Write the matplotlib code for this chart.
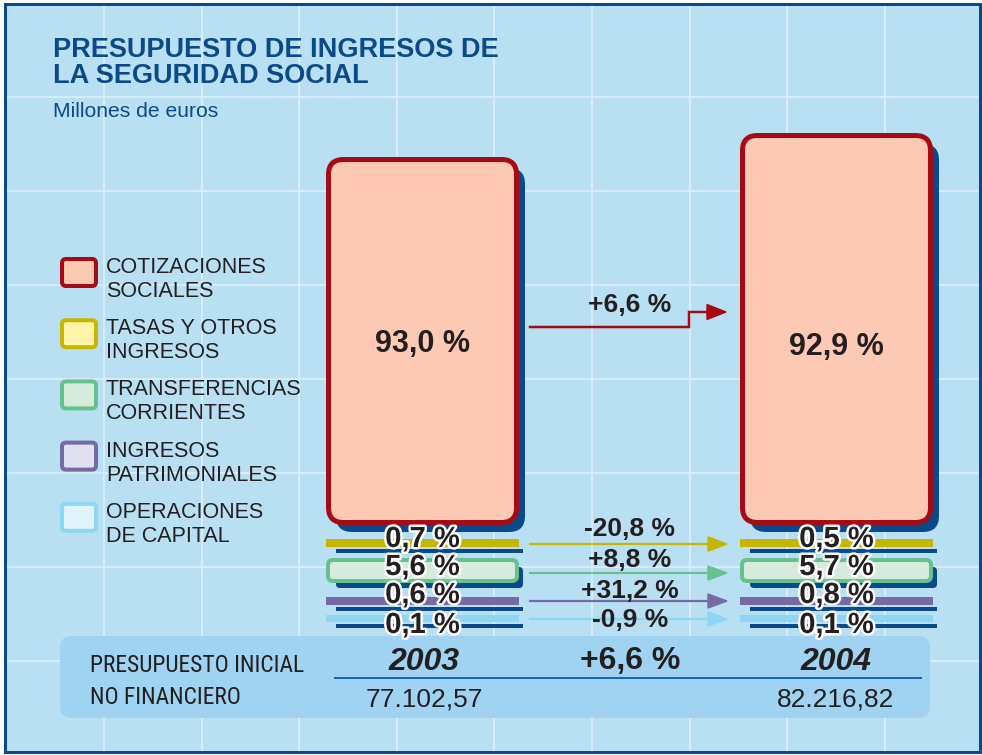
import matplotlib
matplotlib.use('Agg')
import matplotlib.pyplot as plt
import matplotlib.patheffects as pe
from matplotlib import font_manager
from matplotlib.patches import Rectangle, FancyBboxPatch, FancyArrow

plt.rcParams['font.family'] = ['Liberation Sans', 'DejaVu Sans']

#%% data (millones de euros / %)
years = ['2003', '2004']
totals = [77102.57, 82216.82]
categories = ['COTIZACIONES\nSOCIALES', 'TASAS Y OTROS\nINGRESOS', 'TRANSFERENCIAS\nCORRIENTES',
              'INGRESOS\nPATRIMONIALES', 'OPERACIONES\nDE CAPITAL']
share_2003 = [93.0, 0.7, 5.6, 0.6, 0.1]
share_2004 = [92.9, 0.5, 5.7, 0.8, 0.1]
change = [6.6, -20.8, 8.8, 31.2, -0.9]
total_change = 6.6

#%% styles
edge_colors = ['#a50a15', '#c7b500', '#66c18c', '#7769a3', '#8dd6f4']
fill_colors = ['#fcc9b4', '#fff5a8', '#d6ebdc', '#e0e0f0', '#e0f3fb']
navy = '#0b4a8a'
ink = '#231f20'
bg = '#b9dff3'
grid_c = '#d6edf9'
panel_c = '#9fd3f1'
PX = 0.72  # points per pixel at dpi 100

# narrowest sans available for the condensed labels of the bottom panel
avail = {f.name for f in font_manager.fontManager.ttflist}
narrow = next((f for f in ['Liberation Sans Narrow', 'Roboto Condensed', 'Open Sans Condensed',
                           'Roboto'] if f in avail), 'Liberation Sans')


def pct(v, sign=False):
    s = f'{v:+.1f}' if sign else f'{v:.1f}'
    return s.replace('.', ',') + ' %'


def euros(v):
    return f'{v:,.2f}'.replace(',', 'X').replace('.', ',').replace('X', '.')


fig = plt.figure(figsize=(9.82, 7.55), dpi=100)
ax = fig.add_axes([0, 0, 1, 1])
ax.set_xlim(0, 982)
ax.set_ylim(755, 0)
ax.axis('off')

# frame + grid
ax.add_patch(Rectangle((5.5, 4), 975, 748, fc=bg, ec='none', zorder=0))
for k in range(9):
    ax.plot([104 + 97.6 * k] * 2, [5, 751], color=grid_c, lw=2 * PX, zorder=0.5)
for k in range(7):
    ax.plot([6, 980], [97 + 94 * k] * 2, color=grid_c, lw=2 * PX, zorder=0.5)
ax.add_patch(Rectangle((5.5, 4), 975, 748, fc='none', ec=navy, lw=3 * PX, zorder=10))

# title
ax.text(53, 57, 'PRESUPUESTO DE INGRESOS DE', color=navy, fontsize=19.5, fontweight='bold', va='baseline')
ax.text(53, 83, 'LA SEGURIDAD SOCIAL', color=navy, fontsize=19.5, fontweight='bold', va='baseline')
ax.text(53, 117, 'Millones de euros', color=navy, fontsize=15.2, va='baseline')

# legend
for k, cat in enumerate(categories):
    yc = 272.5 + 61.2 * k
    ax.add_patch(FancyBboxPatch((62, yc - 13.5), 34, 27, boxstyle='round,pad=0,rounding_size=4',
                                fc=fill_colors[k], ec=edge_colors[k], lw=4 * PX, zorder=3))
    for j, line in enumerate(cat.split('\n')):
        ax.text(106, 273 + 61.2 * k + 24 * j, line, color=ink, fontsize=15.5, va='baseline')

# columns
col_x = [326, 740]
col_w = 193
base_y = 525
px_per_meur = 368 / (totals[0] * share_2003[0] / 100)
strip_top = [539, 558, 597, 615]
strip_h = [8, 25, 8, 7]
label_base = [547, 575, 603, 633]
big_label_base = [352, 355]
outline = [pe.withStroke(linewidth=3.5, foreground='white')]

for i, (x0, total, shares) in enumerate(zip(col_x, totals, [share_2003, share_2004])):
    h = total * shares[0] / 100 * px_per_meur
    top = base_y - h
    ax.add_patch(FancyBboxPatch((x0 + 10, top + 11), col_w - 4, h - 4,
                                boxstyle='round,pad=0,rounding_size=16', fc=navy, ec='none', zorder=2))
    ax.add_patch(FancyBboxPatch((x0 + 2.5, top + 2.5), col_w - 5, h - 5,
                                boxstyle='round,pad=0,rounding_size=15', fc=fill_colors[0],
                                ec=edge_colors[0], lw=5 * PX, zorder=3))
    xc = x0 + col_w / 2
    ax.text(xc, big_label_base[i], pct(shares[0]), color=ink, fontsize=22,
            fontweight='bold', ha='center', va='baseline', zorder=6)

    for k in range(1, 5):
        t, sh = strip_top[k - 1], strip_h[k - 1]
        if k == 2:
            ax.add_patch(FancyBboxPatch((x0 + 10, t + 9), col_w - 6, sh - 4,
                                        boxstyle='round,pad=0,rounding_size=4', fc=navy, ec='none', zorder=2))
            ax.add_patch(FancyBboxPatch((x0 + 2, t + 2), col_w - 4, sh - 4,
                                        boxstyle='round,pad=0,rounding_size=5', fc=fill_colors[k],
                                        ec=edge_colors[k], lw=4 * PX, zorder=3))
        else:
            ax.add_patch(Rectangle((x0 + 10, t + sh + 2), col_w - 6, 3.5, fc=navy, ec='none', zorder=2))
            ax.add_patch(Rectangle((x0, t), col_w, sh, fc=edge_colors[k], ec='none', zorder=3))
        ax.text(xc, label_base[k - 1], pct(shares[k]), color=ink, fontsize=21, fontweight='bold',
                ha='center', va='baseline', zorder=6, path_effects=outline)

# growth arrows
ax.plot([530, 689, 689, 709], [327, 327, 312, 312], color=edge_colors[0], lw=2.5 * PX,
        solid_joinstyle='miter', zorder=4)
ax.add_patch(FancyArrow(705, 312, 21, 0, width=0.1, head_width=15, head_length=19,
                        length_includes_head=True, color=edge_colors[0], zorder=4))
ax.text(630, 312, pct(change[0], sign=True), color=ink, fontsize=19, fontweight='bold',
        ha='center', va='baseline', zorder=6)

arrow_y = [544, 573, 601, 619]
mid_base = [536, 567, 598, 627]
for k in range(1, 5):
    y = arrow_y[k - 1]
    ax.plot([530, 712], [y, y], color=edge_colors[k], lw=2.2 * PX, zorder=4)
    ax.add_patch(FancyArrow(705, y, 22, 0, width=0.1, head_width=14, head_length=19,
                            length_includes_head=True, color=edge_colors[k], zorder=4))
    ax.text(630, mid_base[k - 1], pct(change[k], sign=True), color=ink, fontsize=19,
            fontweight='bold', ha='center', va='baseline', zorder=6)

# bottom panel
ax.add_patch(FancyBboxPatch((60, 636), 870, 82, boxstyle='round,pad=0,rounding_size=12',
                            fc=panel_c, ec='none', zorder=3))
ax.plot([335, 921], [678, 678], color='#1d63b0', lw=2 * PX, zorder=4)
t1 = ax.text(90, 672, 'PRESUPUESTO INICIAL', color=ink, fontsize=18, family=narrow, va='baseline', zorder=5)
t2 = ax.text(90, 704, 'NO FINANCIERO', color=ink, fontsize=18, family=narrow, va='baseline', zorder=5)
# squeeze the panel caption to the width it has in the original
renderer = fig.canvas.get_renderer()
w = t1.get_window_extent(renderer).width
for t in (t1, t2):
    t.set_fontsize(t.get_fontsize() * 215 / w)
for xc, yr, total in zip([424, 836], years, totals):
    ax.text(xc, 670, yr, color=ink, fontsize=23, fontweight='bold', fontstyle='italic',
            ha='center', va='baseline', zorder=5)
    ax.text(xc, 707, euros(total), color=ink, fontsize=19, ha='center', va='baseline', zorder=5)
ax.text(630, 669, pct(total_change, sign=True), color=ink, fontsize=23, fontweight='bold',
        ha='center', va='baseline', zorder=5)

fig.savefig('out.png', dpi=100, facecolor='white')
